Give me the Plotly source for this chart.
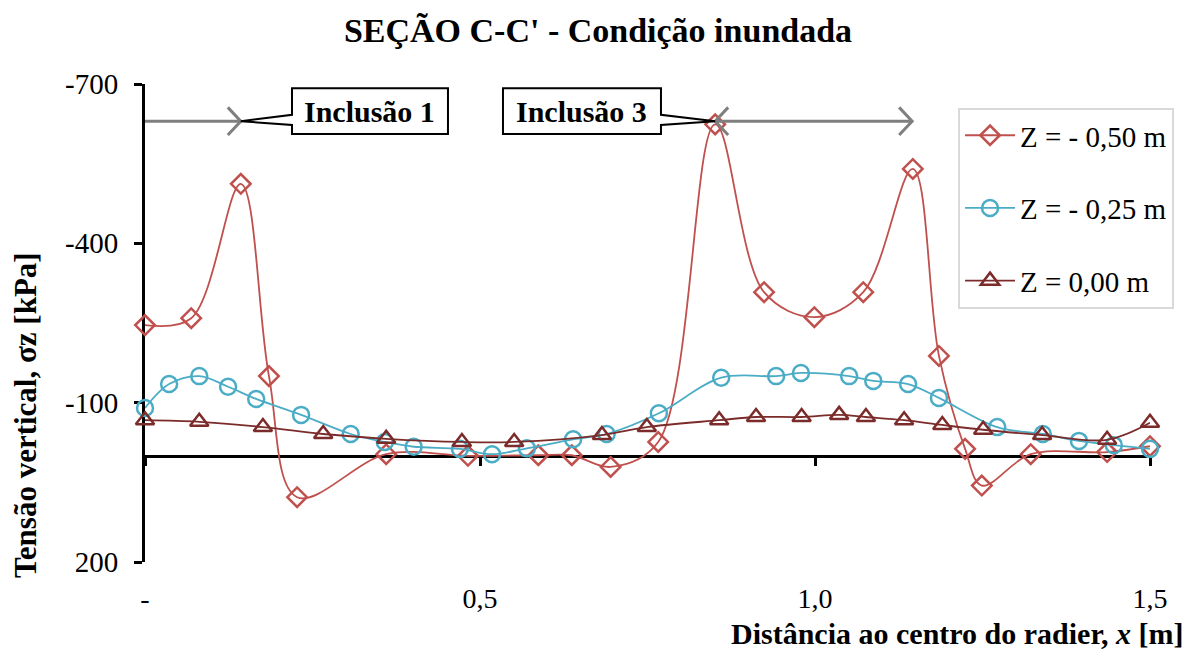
import plotly.graph_objects as go

# ---------------- data ----------------
x_red = [0, 0.069, 0.143, 0.185, 0.227, 0.36, 0.482, 0.587, 0.637, 0.695, 0.766,
         0.851, 0.924, 0.999, 1.072, 1.146, 1.185, 1.224, 1.249, 1.322, 1.436, 1.5]
y_red = [-246, -259, -512, -150, 78, -3, 0, -1, -1, 21, -26,
         -624, -308, -261, -308, -540, -188, -13, 56, -3, -7, -18]

x_blue = [0, 0.036, 0.081, 0.124, 0.166, 0.233, 0.307, 0.358, 0.401, 0.47, 0.518,
          0.57, 0.639, 0.689, 0.767, 0.86, 0.942, 0.979, 1.051, 1.087, 1.139,
          1.185, 1.272, 1.34, 1.394, 1.446, 1.5]
y_blue = [-90, -135, -150, -130, -107, -77, -41, -26, -17, -13, -3,
          -14, -31, -41, -80, -147, -150, -156, -150, -141, -135,
          -109, -54, -41, -28, -20, -13]

x_dark = [0, 0.081, 0.176, 0.266, 0.36, 0.473, 0.551, 0.682, 0.749, 0.857,
          0.912, 0.98, 1.036, 1.076, 1.133, 1.19, 1.251, 1.339, 1.436, 1.5]
y_dark = [-67, -64, -54, -41, -32, -26, -26, -39, -54, -67,
          -73, -73, -77, -73, -67, -58, -49, -39, -30, -62]

series_names = ["Z = - 0,50 m", "Z = - 0,25 m", "Z = 0,00 m"]

x_tickvals = [0, 0.5, 1.0, 1.5]
x_ticktext = ["-", "0,5", "1,0", "1,5"]
y_tickvals = [-700, -400, -100, 200]
y_ticktext = ["-700", "-400", "-100", "200"]

# annotation geometry (data units)
arrow_y = -630
incl1_arrow = (0.0, 0.143)
incl3_arrow = (0.851, 1.145)
box1 = dict(x0=0.2194, x1=0.4522, label="Inclusão 1")
box3 = dict(x0=0.5343, x1=0.7701, label="Inclusão 3")
box_top, box_bot = -692, -606
wedge_top, wedge_bot = -642, -623

FONT = "Liberation Serif, Times New Roman, serif"
RED = "#C0504D"
BLUE = "#4BACC6"
DARK = "#7B2C2A"

fig = go.Figure()

def add_series(x, y, name, color, symbol, size, group):
    fig.add_trace(go.Scatter(
        x=x, y=y, name=name, mode="lines+markers",
        line=dict(color=color, width=1.8, shape="spline", smoothing=1.0),
        marker=dict(symbol=symbol, size=size, color=color,
                    line=dict(color=color, width=2.5)),
        cliponaxis=False, legendgroup=group,
    ))

add_series(x_red, y_red, series_names[0], RED, "diamond-open", 15, "a")
add_series(x_blue, y_blue, series_names[1], BLUE, "circle-open", 16, "b")
add_series(x_dark, y_dark, series_names[2], DARK, "triangle-up-open", 16, "c")

shapes = []
GRAY = "#7F7F7F"
hx, hy = 0.0194, 26.0

def arrow_path(x0, x1, left_head):
    p = f"M {x0},{arrow_y} L {x1},{arrow_y} "
    p += f"M {x1-hx},{arrow_y-hy} L {x1},{arrow_y} L {x1-hx},{arrow_y+hy} "
    if left_head:
        p += f"M {x0+hx},{arrow_y-hy} L {x0},{arrow_y} L {x0+hx},{arrow_y+hy}"
    return p

shapes.append(dict(type="path", xref="x", yref="y", path=arrow_path(*incl1_arrow, False),
                   line=dict(color=GRAY, width=3), layer="above"))
shapes.append(dict(type="path", xref="x", yref="y", path=arrow_path(*incl3_arrow, True),
                   line=dict(color=GRAY, width=3), layer="above"))

# callout outlines
tip1 = (incl1_arrow[1], arrow_y)
p1 = (f"M {box1['x0']},{box_top} L {box1['x1']},{box_top} L {box1['x1']},{box_bot} "
      f"L {box1['x0']},{box_bot} L {box1['x0']},{wedge_bot} L {tip1[0]},{tip1[1]} "
      f"L {box1['x0']},{wedge_top} Z")
tip3 = (incl3_arrow[0], arrow_y)
p3 = (f"M {box3['x0']},{box_top} L {box3['x1']},{box_top} L {box3['x1']},{wedge_top} "
      f"L {tip3[0]},{tip3[1]} L {box3['x1']},{wedge_bot} L {box3['x1']},{box_bot} "
      f"L {box3['x0']},{box_bot} Z")
for p in (p1, p3):
    shapes.append(dict(type="path", xref="x", yref="y", path=p,
                       line=dict(color="black", width=2), fillcolor="white", layer="above"))

annotations = []
for b in (box1, box3):
    annotations.append(dict(x=(b["x0"] + b["x1"]) / 2, y=(box_top + box_bot) / 2,
                            xref="x", yref="y", text=f"<b>{b['label']}</b>",
                            xanchor="center", yanchor="middle",
                            showarrow=False, font=dict(family=FONT, size=30, color="black")))

annotations.append(dict(x=-0.1194, y=0.3075, xref="paper", yref="paper",
                        xanchor="center", yanchor="middle",
                        text="<b>Tensão vertical, σz [kPa]</b>", textangle=-90,
                        showarrow=False, font=dict(family=FONT, size=31, color="black")))
annotations.append(dict(x=1.0348, y=-0.1500, xref="paper", yref="paper", xanchor="right",
                        yanchor="middle",
                        text="<b>Distância ao centro do radier, <i>x</i> [m]</b>",
                        showarrow=False, font=dict(family=FONT, size=30, color="black")))

fig.update_layout(
    width=1196, height=650,
    margin=dict(l=145, r=46, t=84, b=88),
    paper_bgcolor="white", plot_bgcolor="white",
    font=dict(family=FONT, size=28, color="black"),
    title=dict(text="<b>SEÇÃO C-C' - Condição inundada</b>", x=0.5, xanchor="center",
               y=1 - 30 / 650, yanchor="middle",
               font=dict(family=FONT, size=34, color="black")),
    xaxis=dict(range=[0, 1.5], tickvals=x_tickvals, ticktext=x_ticktext,
               showgrid=False, zeroline=False, showline=False,
               ticks="outside", ticklen=11, tickcolor="rgba(0,0,0,0)",
               tickfont=dict(family=FONT, size=28, color="black")),
    xaxis2=dict(range=[0, 1.5], overlaying="x", anchor="free", position=200 / 900,
                tickvals=x_tickvals, showticklabels=False, showgrid=False, zeroline=False,
                showline=True, linecolor="black", linewidth=3,
                ticks="outside", ticklen=8, tickwidth=3, tickcolor="black",
                layer="below traces"),
    yaxis=dict(range=[200, -700], tickvals=y_tickvals, ticktext=y_ticktext,
               showgrid=False, zeroline=False, showline=True, linecolor="black",
               linewidth=3, ticks="outside", ticklen=8, tickwidth=3, tickcolor="black",
               ticklabelstandoff=10, layer="below traces",
               tickfont=dict(family=FONT, size=29, color="black")),
    legend=dict(x=0.809, y=0.95, xanchor="left", yanchor="top",
                bordercolor="#D9D9D9", borderwidth=2, bgcolor="white",
                font=dict(family=FONT, size=29, color="black"),
                tracegroupgap=32, itemwidth=50),
    showlegend=True,
    shapes=shapes, annotations=annotations,
)

# invisible trace to make xaxis2 render
fig.add_trace(go.Scatter(x=[0], y=[0], xaxis="x2", yaxis="y", mode="markers",
                         marker=dict(opacity=0), showlegend=False, hoverinfo="skip"))

fig.write_html("out.html", config={"displayModeBar": False},
               post_script="document.body.style.margin='0px';")
